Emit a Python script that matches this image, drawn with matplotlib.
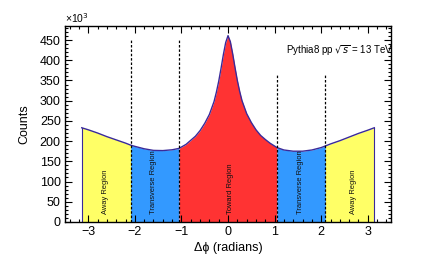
import numpy as np
import matplotlib
matplotlib.use("Agg")
import matplotlib.pyplot as plt
from matplotlib.ticker import MultipleLocator

plt.rcParams['font.family'] = ['Liberation Sans', 'DejaVu Sans']

# delta phi samples (radians) and counts (x10^3)
dphi = [-3.14, -3.0, -2.8, -2.6, -2.4, -2.2, -2.09, -2.0, -1.8, -1.6, -1.4, -1.2,
        -1.05, -0.9, -0.8, -0.7, -0.6, -0.5, -0.4, -0.3, -0.25, -0.2, -0.15, -0.1,
        -0.05, 0.0, 0.05, 0.1, 0.15, 0.2, 0.25, 0.3, 0.4, 0.5, 0.6, 0.7, 0.8, 0.9,
        1.05, 1.2, 1.4, 1.6, 1.8, 2.0, 2.09, 2.2, 2.4, 2.6, 2.8, 3.0, 3.14]
counts = [233, 228, 220, 211, 203, 195, 190, 187, 181, 177, 176.5, 178.5,
          182, 192, 202, 212, 226, 244, 266, 298, 321, 348, 380, 414,
          444, 461, 446, 416, 382, 350, 323, 300, 268, 246, 228, 214, 204, 195,
          184, 178, 175, 175, 178, 184, 188, 193, 201, 210, 219, 227, 233]

regions = [(-3.14, -2.09, '#ffff66', 'Away Region', -2.63),
           (-2.09, -1.05, '#3399ff', 'Transverse Region', -1.6),
           (-1.05, 1.05, '#ff3333', 'Toward Region', 0.05),
           (1.05, 2.09, '#3399ff', 'Transverse Region', 1.56),
           (2.09, 3.14, '#ffff66', 'Away Region', 2.70)]

# dashed boundary lines: position and top (x10^3)
bounds = [-2.09, -1.05, 1.05, 2.09]
bound_tops = [453, 453, 366, 366]

x = np.array(dphi)
y = np.array(counts)

fig = plt.figure(figsize=(4.36, 2.62), dpi=100)
ax = fig.add_axes([0.149, 0.153, 0.748, 0.748])

for lo, hi, col, lab, xt in regions:
    m = (x >= lo - 1e-9) & (x <= hi + 1e-9)
    ax.fill_between(x[m], 0, y[m], color=col, lw=0)
    ax.text(xt, 20, lab, rotation=90, ha='center', va='bottom', fontsize=5.4, color='#111111')

line_col = '#3a2a9a'
ax.plot(x, y, color=line_col, lw=1.0)
ax.plot([x[0], x[0]], [0, y[0]], color=line_col, lw=0.8)
ax.plot([x[-1], x[-1]], [0, y[-1]], color=line_col, lw=0.8)

for b, t in zip(bounds, bound_tops):
    ax.plot([b, b], [0, t], color='black', lw=0.9, ls=(0, (2, 1.5)))

ax.set_xlim(-3.5, 3.5)
ax.set_ylim(0, 485)
ax.xaxis.set_major_locator(MultipleLocator(1))
ax.xaxis.set_minor_locator(MultipleLocator(0.2))
ax.yaxis.set_major_locator(MultipleLocator(50))
ax.yaxis.set_minor_locator(MultipleLocator(10))
ax.tick_params(which='both', direction='in', top=True, right=True, labelsize=9, width=0.8)
ax.tick_params(which='major', length=5, pad=3)
ax.tick_params(which='minor', length=2.5)
for s in ax.spines.values():
    s.set_linewidth(1.0)

ax.set_xlabel('Δϕ (radians)', fontsize=9, labelpad=3)
ax.set_ylabel('Counts', fontsize=9, labelpad=7)
ax.text(0.0, 1.005, '×10$^3$', transform=ax.transAxes, fontsize=7.5, ha='left', va='bottom')
ax.text(1.005, 0.874, 'Pythia8 pp $\\sqrt{s}$ = 13 TeV', transform=ax.transAxes,
        fontsize=7, ha='right', va='center')

fig.savefig('out.png', dpi=100)
